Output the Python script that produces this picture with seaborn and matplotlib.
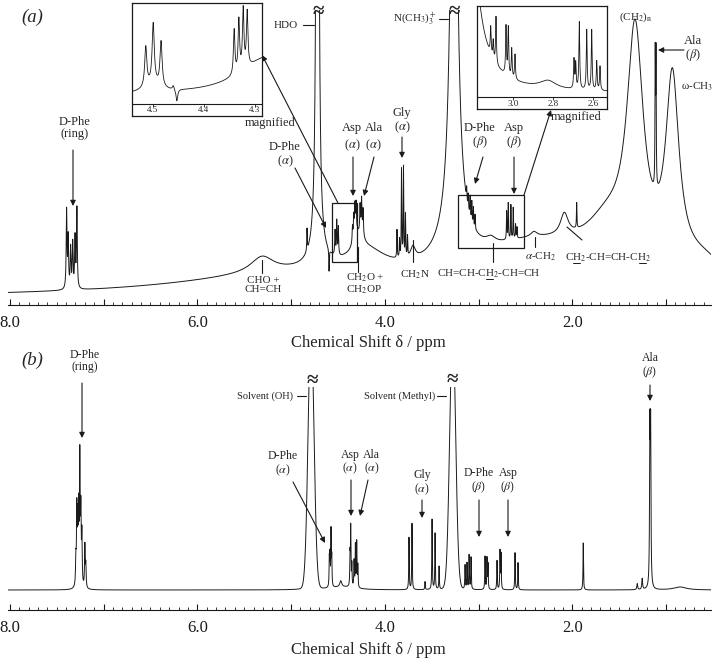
import numpy as np
import matplotlib
matplotlib.use("Agg")
import matplotlib.pyplot as plt
import seaborn as sns
from matplotlib.lines import Line2D
from matplotlib.patches import Rectangle
from matplotlib.ticker import MultipleLocator, FuncFormatter

W, H = 717, 659

# ---- spectrum (a), lipid extract: (shift / ppm, height, half width / ppm)
a_broad = [
    (5.0, 20, 1.5), (2.4, 45, 0.9), (4.2, 22, 0.25), (4.718, 20, 0.08),
    (5.31, 16, 0.15), (1.62, 40, 0.30), (2.085, 22, 0.05), (2.87, 6, 0.06),
    (2.41, 5, 0.04), (3.70, 12, 0.03), (4.31, 20, 0.03), (4.25, 15, 0.03),
    (3.262, 600, 0.035), (3.262, 40, 0.15),
    (1.330, 225, 0.105), (0.932, 185, 0.085), (0.6, 20, 0.3),
]
a_lines = [
    (7.395, 78, .005), (7.378, 50, .005), (7.352, 40, .005), (7.330, 45, .005),
    (7.305, 50, .005), (7.285, 80, .005),
    (4.718, 2000, 0.008), (4.83, 22, .003), (4.595, -22, .003),
    (4.531, 24, .004), (4.513, 34, .004), (4.496, 28, .004),
    (4.345, 15, .004), (4.332, 20, .004), (4.320, 25, .004), (4.307, 24, .004),
    (4.264, 25, .004), (4.248, 30, .004), (4.232, 24, .004),
    (3.870, 28, .003), (3.843, 18, .003), (3.822, 88, .003), (3.801, 90, .003),
    (3.780, 42, .003), (3.758, 20, .003),
    (3.127, 12, .003), (3.110, 14, .003), (3.090, 20, .003), (3.072, 20, .003),
    (3.055, 18, .003), (3.037, 14, .003),
    (2.700, 28, .003), (2.683, 36, .003), (2.655, 34, .003), (2.630, 31, .003),
    (2.605, 14, .003), (2.590, 11, .003),
    (1.953, 25, .003), (1.115, 130, .003), (1.107, 130, .003),
]
a_offset = -5

# ---- magnified windows of (a)
i1_broad = [(4.27, 40, 0.07), (4.50, 8, 0.02)]
i1_lines = [
    (4.514, 40, .0025), (4.4994, 60, .0025), (4.484, 45, .0025),
    (4.460, 4, .002), (4.453, -12, .002),
    (4.3406, 45, .0017), (4.3314, 52, .0017), (4.3229, 60, .0017), (4.3151, 55, .0017),
]
i1_offset = 8

i2_broad = [(3.262, 900, 0.032), (2.825, 8, 0.05)]
i2_lines = [
    (3.1115, 27, .0025), (3.099, 18, .0025), (3.085, 47, .0025), (3.035, 48, .0025),
    (3.0235, 48, .0025), (3.0065, 29, .0025), (2.990, 25, .0025),
    (2.695, 29, .0025), (2.6865, 25, .0025), (2.6685, 67, .0025), (2.6315, 60, .0025),
    (2.6065, 60, .0025), (2.5815, 29, .0025), (2.565, 24, .0025),
]
i2_offset = 4

# ---- spectrum (b), aqueous extract
b_lines = [
    (7.296, 25, .004), (7.286, 75, .004), (7.276, 60, .004), (7.266, 70, .004),
    (7.254, 125, .004), (7.243, 70, .004), (7.232, 50, .004), (7.200, 42, .004),
    (7.190, 22, .004),
    (4.592, 28, .003), (4.585, 30, .003), (4.574, 55, .003), (4.566, 28, .003),
    (4.47, 6, 0.012), (4.45, 3, 0.15),
    (4.371, 30, .003), (4.364, 58, .003), (4.352, 22, .003),
    (4.328, 26, .003), (4.314, 42, .003), (4.300, 45, .003), (4.288, 22, .003),
    (3.742, 52, .003), (3.710, 66, .003), (3.571, 8, .003),
    (3.496, 70, .003), (3.464, 56, .003), (3.421, 23, .003),
    (3.144, 24, .003), (3.123, 26, .003), (3.101, 34, .003), (3.080, 32, .003),
    (2.931, 33, .003), (2.910, 31, .003), (2.899, 25, .003),
    (2.803, 29, .003), (2.771, 38, .003), (2.760, 35, .003),
    (2.611, 37, .003), (2.579, 27, .003),
    (1.883, 47, .003), (1.307, 6, .005), (1.254, 11, .005),
    (1.172, 150, .004), (1.164, 150, .004), (0.85, 3, 0.08),
    (4.787, 8, 0.04), (3.276, 8, 0.04),
]
b_solvent = [(4.787, 258, 0.031), (3.276, 258, 0.031)]


def spectrum(x, lorentz, gauss=(), offset=0.0):
    y = np.full_like(x, offset)
    for p, h, w in lorentz:
        y += h / (1 + ((x - p) / w) ** 2)
    for p, h, s in gauss:
        y += h * np.exp(-0.5 * ((x - p) / s) ** 2)
    return y


def fbox(x0, y0, x1, y1):
    return [x0 / W, 1 - y1 / H, (x1 - x0) / W, (y1 - y0) / H]


def fp(x, y):
    return (x, H - y)


sns.set_theme(style="ticks")
plt.rcParams["font.family"] = ["Liberation Serif", "DejaVu Serif"]
plt.rcParams["mathtext.fontset"] = "stix"

fig = plt.figure(figsize=(W / 100, H / 100), dpi=100)

ppm = np.linspace(8.02, 0.52, 15001)
ax_a = fig.add_axes(fbox(8, 10, 711, 305))
ax_b = fig.add_axes(fbox(8, 387, 711, 610))

sns.lineplot(x=ppm, y=spectrum(ppm, a_broad + a_lines, offset=a_offset), ax=ax_a,
             color="k", lw=0.7, estimator=None, sort=False)
sns.lineplot(x=ppm, y=spectrum(ppm, b_lines, b_solvent), ax=ax_b,
             color="k", lw=0.7, estimator=None, sort=False)


def main_axis(ax, ylim):
    ax.set_xlim(8.02, 0.52)
    ax.set_ylim(*ylim)
    for s in ["top", "right", "left"]:
        ax.spines[s].set_visible(False)
    ax.spines["bottom"].set_color("k")
    ax.spines["bottom"].set_linewidth(0.8)
    ax.xaxis.set_major_locator(MultipleLocator(1))
    ax.xaxis.set_minor_locator(MultipleLocator(0.1))
    ax.xaxis.set_major_formatter(
        FuncFormatter(lambda v, pos: f"{v:.1f}" if int(round(v)) % 2 == 0 else ""))
    ax.tick_params(axis="x", which="major", bottom=True, direction="in", length=4.5,
                   width=0.8, color="k", labelsize=12, labelcolor="k", pad=7)
    ax.tick_params(axis="x", which="minor", bottom=True, direction="in", length=2,
                   width=0.6, color="k")
    ax.set_yticks([])
    ax.set_xlabel("")
    ax.set_ylabel("")
    ax.patch.set_alpha(0)


main_axis(ax_a, (-12, 283))
main_axis(ax_b, (-20, 203))

# ---- insets
ppm_i1 = np.linspace(4.541, 4.286, 3001)
ppm_i2 = np.linspace(3.18, 2.53, 3001)
ax_i1 = fig.add_axes(fbox(132, 3, 262, 116))
ax_i2 = fig.add_axes(fbox(477, 6, 607, 109))
sns.lineplot(x=ppm_i1, y=spectrum(ppm_i1, i1_broad + i1_lines, offset=i1_offset),
             ax=ax_i1, color="k", lw=0.6, estimator=None, sort=False)
sns.lineplot(x=ppm_i2, y=spectrum(ppm_i2, i2_broad + i2_lines, offset=i2_offset),
             ax=ax_i2, color="k", lw=0.6, estimator=None, sort=False)
for ax, xl, yl, labs in [(ax_i1, (4.541, 4.286), (-12, 101), [4.5, 4.4, 4.3]),
                         (ax_i2, (3.18, 2.53), (-12, 91), [3.0, 2.8, 2.6])]:
    ax.set_xlim(*xl)
    ax.set_ylim(*yl)
    ax.set_xticks([])
    ax.set_yticks([])
    ax.set_xlabel("")
    ax.set_ylabel("")
    for s in ax.spines.values():
        s.set_color("k")
        s.set_linewidth(0.9)
    ax.axhline(0, color="k", lw=0.8)
    ax.vlines(labs, -2.5, 0, color="k", lw=0.6)
    for v in labs:
        ax.text(v, -6.5, f"{v:.1f}", ha="center", va="center", fontsize=6.5)


# ---- annotation helpers (figure pixel positions, origin top left)
def label(x, y, s, fs=9, ha="center", va="center", **kw):
    return fig.text(x / W, 1 - y / H, s, fontsize=fs, ha=ha, va=va, linespacing=1.0, **kw)


def seg(x0, y0, x1, y1, lw=0.8):
    fig.add_artist(Line2D([x0 / W, x1 / W], [1 - y0 / H, 1 - y1 / H],
                          transform=fig.transFigure, color="k", lw=lw))


def arrow(x0, y0, x1, y1):
    ax_a.annotate("", xy=fp(x1, y1), xytext=fp(x0, y0), xycoords="figure pixels",
                  textcoords="figure pixels", annotation_clip=False,
                  arrowprops=dict(arrowstyle="-|>", color="k", lw=0.8,
                                  mutation_scale=8, shrinkA=0, shrinkB=0))


def frame(x0, y0, x1, y1):
    fig.add_artist(Rectangle((x0 / W, 1 - y1 / H), (x1 - x0) / W, (y1 - y0) / H,
                             transform=fig.transFigure, fill=False, ec="k", lw=0.9))


def underline(x_left, y_base, prefix, char, fs):
    r = fig.canvas.get_renderer()
    t = fig.text(0, 0, prefix, fontsize=fs)
    w0 = t.get_window_extent(r).width
    t.set_text(prefix + char)
    w1 = t.get_window_extent(r).width
    t.remove()
    seg(x_left + w0 + 0.5, y_base + 1.5, x_left + w1 - 0.5, y_base + 1.5, lw=0.7)


fig.canvas.draw()

# panel (a)
label(32, 17, "(a)", fs=13.5, style="italic")
label(75, 128, "D-Phe\n(ring)")
arrow(73, 150, 73, 206)
label(298, 25, "HDO", fs=8, ha="right")
seg(303, 25, 314, 25)
label(318, 12, "≈", fs=15, fontweight="bold")
label(270, 123, "magnified")
frame(332, 203, 357, 262)
arrow(338, 203, 262, 55)
label(285, 155, "D-Phe\n($\\alpha$)")
arrow(295, 168, 326, 228)
label(352, 128, "Asp")
label(374, 128, "Ala")
label(352, 145, "($\\alpha$)")
label(373, 145, "($\\alpha$)")
arrow(353, 157, 353, 196)
arrow(374, 157, 364, 196)
label(346, 284, "CH$_2$O +\nCH$_2$OP", fs=8, ha="left")
seg(358, 247, 358, 272)
label(263, 285, "CHO +\nCH=CH", fs=8)
seg(262, 260, 262, 273)
label(402, 121, "Gly\n($\\alpha$)")
arrow(402, 137, 402, 158)
label(415, 275, "CH$_2$N", fs=8)
seg(413, 240, 413, 262)
label(437, 19, "N(CH$_3$)$_3^+$", fs=8, ha="right")
seg(439, 19, 448, 19)
label(454, 12, "≈", fs=15, fontweight="bold")
label(576, 117, "magnified")
frame(458, 195, 524, 248)
arrow(524, 195, 551, 110)
label(480, 136, "D-Phe\n($\\beta$)")
arrow(483, 157, 475, 184)
label(514, 136, "Asp\n($\\beta$)")
arrow(514, 157, 514, 194)
s1 = "CH=CH-CH$_2$-CH=CH"
label(437, 277, s1, fs=8, ha="left", va="baseline")
underline(437, 277, "CH=CH-C", "H", 8)
seg(493, 243, 493, 262)
label(541, 257, "$\\alpha$-CH$_2$", fs=8)
seg(535, 237, 535, 247)
s2 = "CH$_2$-CH=CH-CH$_2$"
label(565, 261, s2, fs=8, ha="left", va="baseline")
underline(565, 261, "C", "H", 8)
underline(565, 261, "CH$_2$-CH=CH-C", "H", 8)
seg(567, 227, 582, 240)
label(636, 17, "(CH$_2$)$_\\mathrm{n}$", fs=8)
label(693, 49, "Ala\n($\\beta$)")
arrow(684, 50, 658, 50)
label(697, 87, "ω-CH$_3$", fs=8)
label(368, 343, "Chemical Shift δ / ppm", fs=12)

# panel (b)
label(32, 360, "(b)", fs=13.5, style="italic")
label(85, 361, "D-Phe\n(ring)", fs=8.5)
arrow(82, 383, 82, 438)
label(293, 396, "Solvent (OH)", fs=7.5, ha="right")
seg(297, 396, 306, 396)
label(312, 381, "≈", fs=15, fontweight="bold")
label(283, 464, "D-Phe\n($\\alpha$)", fs=8.5)
arrow(293, 482, 325, 543)
label(350, 455, "Asp", fs=8.5)
label(371, 455, "Ala", fs=8.5)
label(350, 468, "($\\alpha$)", fs=8.5)
label(372, 468, "($\\alpha$)", fs=8.5)
arrow(351, 480, 351, 516)
arrow(368, 480, 360, 516)
label(422, 483, "Gly\n($\\alpha$)", fs=8.5)
arrow(422, 500, 422, 518)
label(435, 396, "Solvent (Methyl)", fs=7.5, ha="right")
seg(437, 396, 446, 396)
label(452, 380, "≈", fs=15, fontweight="bold")
label(479, 481, "D-Phe\n($\\beta$)", fs=8.5)
arrow(479, 500, 479, 537)
label(508, 481, "Asp\n($\\beta$)", fs=8.5)
arrow(508, 500, 508, 537)
label(650, 366, "Ala\n($\\beta$)", fs=8.5)
arrow(650, 385, 650, 401)
label(368, 650, "Chemical Shift δ / ppm", fs=12)

fig.savefig("out.png", dpi=100)
